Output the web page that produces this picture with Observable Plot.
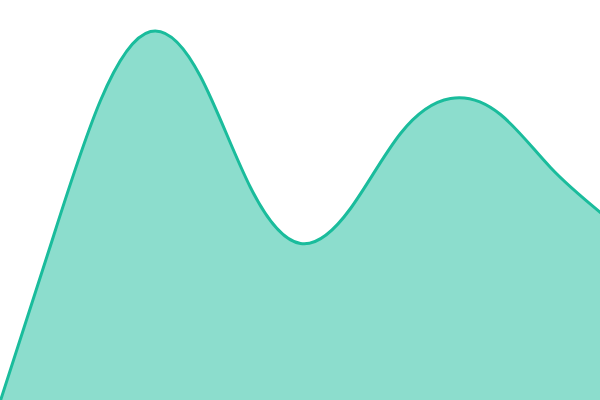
<!DOCTYPE html>
<html><head><meta charset="utf-8">
<script src="https://cdn.jsdelivr.net/npm/d3@7"></script>
<script src="https://cdn.jsdelivr.net/npm/@observablehq/plot@0.6"></script>
<style>body{margin:0;background:#fff}</style>
</head><body><div id="chart"></div>
<script>
const xs = [0, 50, 100, 150, 200, 250, 300, 350, 400, 450, 500, 550, 600];
const values = [0, 155, 300, 369, 324, 213, 157, 192, 267, 302, 286, 233, 188];
const data = xs.map((x, i) => ({x, y: values[i]}));
const chart = Plot.plot({
  width: 600, height: 400,
  margin: 0,
  x: {domain: [0, 600], axis: null},
  y: {domain: [0, 400], axis: null},
  marks: [
    Plot.areaY(data, {x: "x", y: "y", fill: "#1abc9c", fillOpacity: 0.5, curve: "natural"}),
    Plot.lineY(data, {x: "x", y: "y", stroke: "#1abc9c", strokeWidth: 3, curve: "natural"})
  ]
});
document.getElementById("chart").append(chart);
</script></body></html>
